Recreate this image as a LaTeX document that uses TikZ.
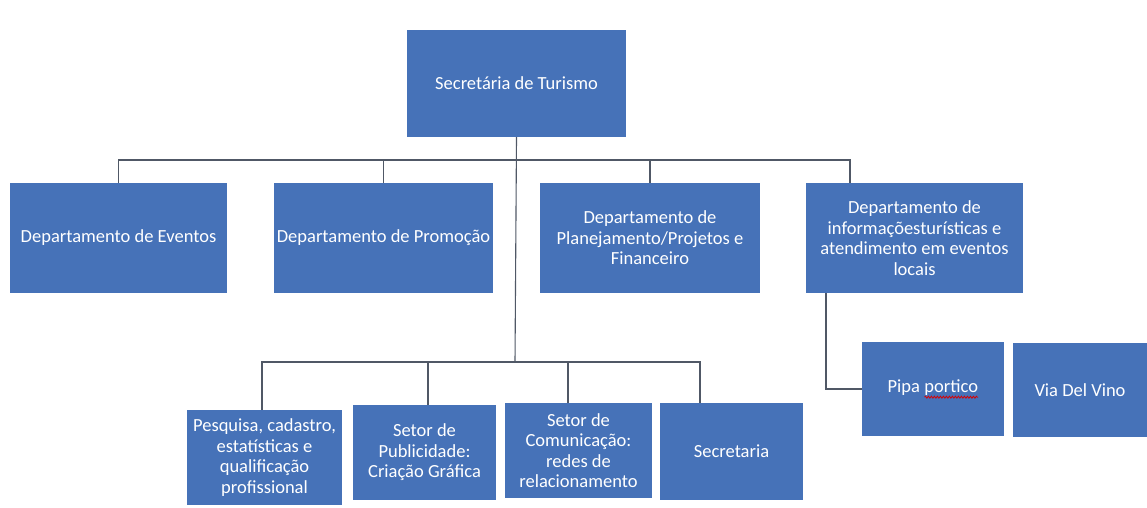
\documentclass[tikz,border=0pt]{standalone}
\usepackage{fontspec}
\setmainfont{Carlito}
\usetikzlibrary{decorations.pathmorphing}
\definecolor{boxblue}{RGB}{70,114,184}
\definecolor{linegrey}{RGB}{80,88,102}
% word with a wavy red underline
\newcommand{\spellmark}[1]{\tikz[baseline=(w.base)]{\node[inner sep=0pt,outer sep=0pt,minimum width=0pt,minimum height=0pt,fill=none,draw=none,text=white] (w) {#1};
  \draw[red!85!black,line width=0.8pt,decorate,decoration={snake,amplitude=1pt,segment length=3pt}]
    ([yshift=-5pt]w.base west) -- ([yshift=-5pt]w.base east);}}
\begin{document}
\begin{tikzpicture}[x=1pt,y=-1pt,
  orgbox/.style={fill=boxblue,draw=none,text=white,align=center,
    inner sep=2pt,font=\fontsize{18.5}{20.5}\selectfont},
  link/.style={draw=linegrey,line width=1.1pt}]
\useasboundingbox (0,0) rectangle (1147,507);
% head
\node[orgbox,minimum width=219,minimum height=107] (top) at (516.5,83.5) {Secretária de Turismo};
% departments
\node[orgbox,minimum width=217,minimum height=110] (ev) at (118.5,238) {Departamento de Eventos};
\node[orgbox,minimum width=219,minimum height=110] (pr) at (383.5,238) {Departamento de Promoção};
\node[orgbox,minimum width=220,minimum height=110] (pl) at (650,238) {Departamento de\\Planejamento/Projetos e\\Financeiro};
\node[orgbox,minimum width=217,minimum height=110] (in) at (914.5,238) {Departamento de\\informaçõesturísticas e\\atendimento em eventos\\locais};
% sectors
\node[orgbox,minimum width=155,minimum height=95] (pe) at (264.5,457.5) {Pesquisa, cadastro,\\estatísticas e\\qualificação\\profissional};
\node[orgbox,minimum width=143,minimum height=95] (pu) at (424.5,452.5) {Setor de\\Publicidade:\\Criação Gráfica};
\node[orgbox,minimum width=147,minimum height=95] (co) at (578.5,450.5) {Setor de\\Comunicação:\\redes de\\relacionamento};
\node[orgbox,minimum width=143,minimum height=97] (se) at (731.5,451.5) {Secretaria};
% local points
\node[orgbox,minimum width=142,minimum height=94] (pi) at (933,389) {Pipa \spellmark{portico}};
\node[orgbox,minimum width=134,minimum height=94] (vi) at (1080,390) {Via Del Vino};
% buses
\coordinate (bus1) at (515,160);
\coordinate (bus2) at (515,362);
\draw[link] (top.south) -- (bus2);
\draw[link] (ev.north) |- (bus1);
\draw[link] (pr.north) |- (bus1);
\draw[link] (pl.north) |- (bus1);
\draw[link] ([xshift=-64.5]in.north) |- (bus1);
\draw[link] ([xshift=-2.5]pe.north) |- (bus2);
\draw[link] ([xshift=3.5]pu.north) |- (bus2);
\draw[link] ([xshift=-10.5]co.north) |- (bus2);
\draw[link] ([xshift=-31.5]se.north) |- (bus2);
\draw[link] ([xshift=-88.5]in.south) |- (pi.west);
\end{tikzpicture}
\end{document}
